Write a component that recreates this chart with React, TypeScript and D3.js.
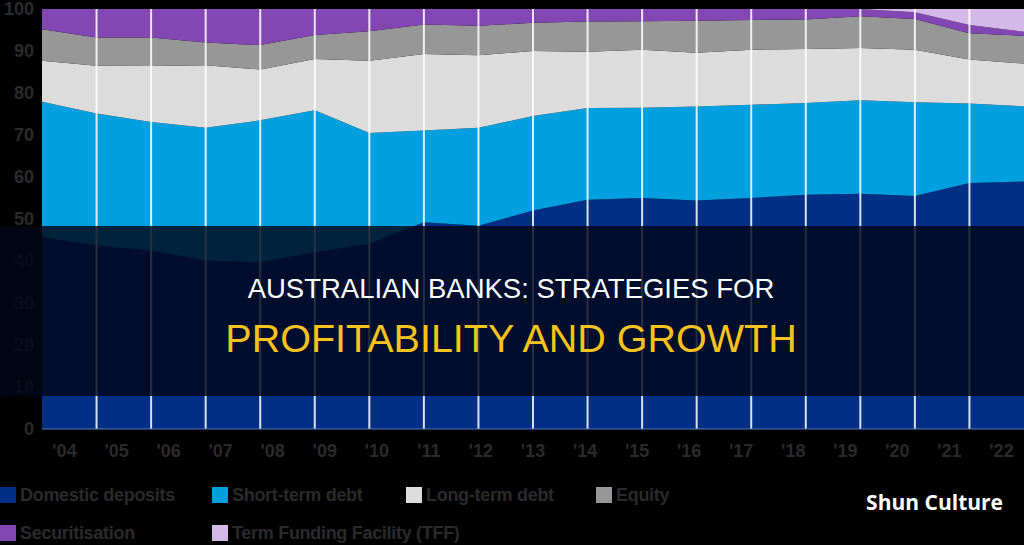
// @ts-nocheck
import React, { useEffect, useRef } from 'react'
import * as d3 from 'd3'

// years and tick labels
const years = [2004, 2005, 2006, 2007, 2008, 2009, 2010, 2011, 2012, 2013, 2014, 2015, 2016, 2017, 2018, 2019, 2020, 2021, 2022]
const yearLabels = ["'04", "'05", "'06", "'07", "'08", "'09", "'10", "'11", "'12", "'13", "'14", "'15", "'16", "'17", "'18", "'19", "'20", "'21", "'22"]
const yTicks = [0, 10, 20, 30, 40, 50, 60, 70, 80, 90, 100]

// funding shares, per cent
const domesticDeposits = [45.7, 43.7, 42.5, 40.1, 39.7, 42.1, 44.1, 49.2, 48.4, 52.0, 54.6, 55.0, 54.4, 55.0, 55.8, 56.0, 55.5, 58.6, 58.9]
const shortTermDebt = [32.2, 31.4, 30.6, 31.6, 33.8, 33.8, 26.4, 21.9, 23.3, 22.5, 21.8, 21.5, 22.4, 22.2, 21.8, 22.3, 22.3, 18.9, 17.9]
const longTermDebt = [9.8, 11.4, 13.3, 14.9, 12.1, 12.2, 17.2, 18.2, 17.3, 15.5, 13.4, 13.8, 12.8, 13.1, 12.9, 12.4, 12.5, 10.5, 10.2]
const equity = [7.5, 6.7, 6.8, 5.4, 5.8, 5.7, 7.0, 7.0, 7.0, 6.7, 7.2, 6.8, 7.6, 7.1, 7.0, 7.6, 7.3, 6.2, 6.6]
const securitisation = [4.8, 6.8, 6.8, 8.0, 8.6, 6.2, 5.3, 3.7, 4.0, 3.3, 3.0, 2.9, 2.8, 2.6, 2.5, 1.7, 1.6, 2.0, 1.0]
const termFunding = [0, 0, 0, 0, 0, 0, 0, 0, 0, 0, 0, 0, 0, 0, 0, 0, 0.8, 3.8, 5.4]

const seriesNames = ['Domestic deposits', 'Short-term debt', 'Long-term debt', 'Equity', 'Securitisation', 'Term Funding Facility (TFF)']
const seriesColors = ['#012f86', '#009fe0', '#dcdcdc', '#979797', '#8347b3', '#d3b8e8']

export const App = () => {
    const ref = useRef(null)

    useEffect(() => {
        document.body.style.margin = '0'
        document.body.style.background = '#000'

        const width = 1024, height = 545
        const left = 42, right = 1024, top = 9, bottom = 429
        const labelFont = '"Liberation Sans Narrow", "Liberation Sans", Arial, sans-serif'

        const table = years.map((yr, i) => ({
            year: yr,
            [seriesNames[0]]: domesticDeposits[i],
            [seriesNames[1]]: shortTermDebt[i],
            [seriesNames[2]]: longTermDebt[i],
            [seriesNames[3]]: equity[i],
            [seriesNames[4]]: securitisation[i],
            [seriesNames[5]]: termFunding[i],
        }))

        const x = d3.scaleLinear([years[0], years[years.length - 1]], [left, right])
        const y = d3.scaleLinear([0, 100], [bottom, top])
        const xLab = d3.scalePoint(yearLabels, [64, 1001])
        const color = d3.scaleOrdinal(seriesNames, seriesColors)

        const stacked = d3.stack().keys(seriesNames)(table)

        const area = d3.area()
            .x(d => x(d.data.year))
            .y0(d => y(d[0]))
            .y1(d => y(d[1]))

        const svg = d3.select(ref.current)
            .attr('width', width)
            .attr('height', height)
        svg.selectAll('*').remove()

        svg.append('rect').attr('width', width).attr('height', height).attr('fill', '#000')

        // stacked areas
        svg.append('g')
            .selectAll('path')
            .data(stacked)
            .join('path')
            .attr('fill', d => color(d.key))
            .attr('d', area)

        // year grid lines
        svg.append('g')
            .selectAll('line')
            .data(years.slice(1, -1))
            .join('line')
            .attr('x1', d => x(d)).attr('x2', d => x(d))
            .attr('y1', top).attr('y2', bottom)
            .attr('stroke', '#fff')
            .attr('stroke-opacity', 0.85)
            .attr('stroke-width', 2)

        svg.append('line')
            .attr('x1', left).attr('x2', right)
            .attr('y1', bottom).attr('y2', bottom)
            .attr('stroke', '#5b78b5')
            .attr('stroke-width', 1)

        // y-axis
        svg.append('g')
            .attr('transform', `translate(34, 0)`)
            .call(d3.axisLeft(y).tickValues(yTicks).tickSize(0).tickPadding(0))
            .call(g => g.select('.domain').remove())
            .call(g => g.selectAll('text')
                .attr('fill', '#2a2a2a')
                .attr('font-family', labelFont)
                .attr('font-weight', 'bold')
                .attr('font-size', 18))

        // x-axis labels
        svg.append('g')
            .attr('transform', `translate(0, 444)`)
            .call(d3.axisBottom(xLab).tickSize(0).tickPadding(0))
            .call(g => g.select('.domain').remove())
            .call(g => g.selectAll('text')
                .attr('fill', '#2a2a2a')
                .attr('font-family', labelFont)
                .attr('font-weight', 'bold')
                .attr('font-size', 18))

        // legend
        const legendPos = [[0, 495], [212, 495], [406, 495], [596, 495], [0, 533], [212, 533]]
        const legend = svg.append('g')
            .selectAll('g')
            .data(seriesNames)
            .join('g')
            .attr('transform', (d, i) => `translate(${legendPos[i][0]}, ${legendPos[i][1]})`)
        legend.append('rect')
            .attr('x', 0).attr('y', -8)
            .attr('width', 16).attr('height', 16)
            .attr('fill', d => color(d))
        legend.append('text')
            .attr('x', 20)
            .attr('dy', '0.35em')
            .attr('fill', '#2a2a2a')
            .attr('font-family', '"Liberation Sans", Arial, sans-serif')
            .attr('font-weight', 'bold')
            .attr('font-size', 18)
            .attr('letter-spacing', -0.3)
            .text(d => d)

        // title band
        svg.append('rect')
            .attr('x', 0).attr('y', 226)
            .attr('width', width).attr('height', 170)
            .attr('fill', '#000619')
            .attr('fill-opacity', 0.82)

        svg.append('text')
            .attr('x', 511).attr('y', 298)
            .attr('text-anchor', 'middle')
            .attr('fill', '#fff')
            .attr('font-family', '"Liberation Sans", Arial, sans-serif')
            .attr('font-size', 27.5)
            .text('AUSTRALIAN BANKS: STRATEGIES FOR')

        svg.append('text')
            .attr('x', 511).attr('y', 352)
            .attr('text-anchor', 'middle')
            .attr('fill', '#f6c21c')
            .attr('font-family', '"Liberation Sans", Arial, sans-serif')
            .attr('font-size', 39.5)
            .text('PROFITABILITY AND GROWTH')

        svg.append('text')
            .attr('x', 1003).attr('y', 503)
            .attr('dy', '0.35em')
            .attr('text-anchor', 'end')
            .attr('fill', '#fff')
            .attr('font-family', '"Open Sans", "Noto Sans", sans-serif')
            .attr('font-weight', 'bold')
            .attr('font-size', 21)
            .text('Shun Culture')
    }, [])

    return <svg ref={ref} width='1024' height='545' style={{ display: 'block' }}></svg>
}

export default App
